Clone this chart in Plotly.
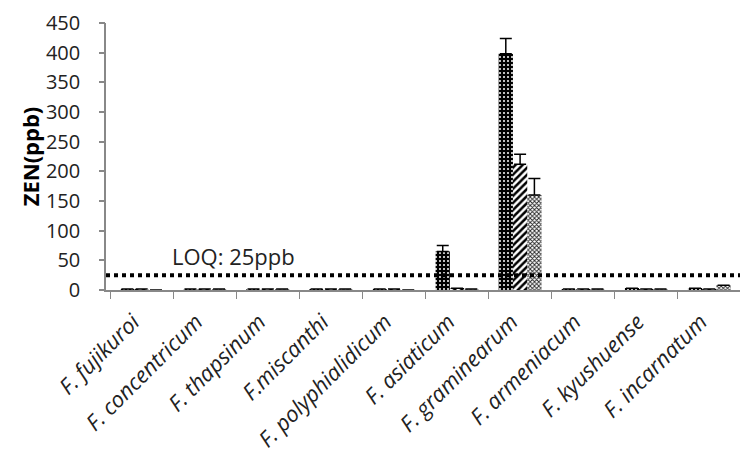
import plotly.graph_objects as go

# species on the x axis
species = ["F. fujikuroi", "F. concentricum", "F. thapsinum", "F.miscanthi",
           "F. polyphialidicum", "F. asiaticum", "F. graminearum",
           "F. armeniacum", "F. kyushuense", "F. incarnatum"]

# ZEN (ppb), three replicates/conditions per species
zen_a = [1.5, 1.5, 1.5, 1.5, 1.5, 65, 398, 1.5, 3, 3]
zen_b = [1.5, 1.5, 1.5, 1.5, 1.5, 3, 212, 1.5, 1.5, 1.5]
zen_c = [0, 1.5, 1.5, 1.5, 0, 1.5, 160, 1.5, 1.5, 8]

err_a = [0, 0, 0, 0, 0, 10, 26, 0, 0, 0]
err_b = [0, 0, 0, 0, 0, 0, 17, 0, 0, 0]
err_c = [0, 0, 0, 0, 0, 0, 28, 0, 0, 0]

loq = 25

fig = go.Figure()

def add_series(vals, errs, shape, bg, fg, size, solidity):
    fig.add_trace(go.Bar(
        x=species, y=vals,
        marker=dict(color=fg, line=dict(width=0),
                    pattern=dict(shape=shape, bgcolor=bg, fgcolor=fg,
                                 size=size, solidity=solidity, fillmode="replace")),
        error_y=dict(type="data", array=errs, arrayminus=[0] * len(errs),
                     symmetric=False, color="black", thickness=1.5, width=6),
        showlegend=False,
    ))

add_series(zen_a, err_a, ".", "black", "white", 4, 0.2)
add_series(zen_b, err_b, "/", "white", "black", 5, 0.5)
add_series(zen_c, err_c, "x", "white", "#222222", 3, 0.5)

# invisible trace so the overlay axis (short tick marks) gets drawn
fig.add_trace(go.Scatter(x=species, y=[0] * len(species), yaxis="y2",
                         mode="markers", marker=dict(opacity=0),
                         hoverinfo="skip", showlegend=False))

# LOQ line
fig.add_shape(type="line", xref="paper", x0=0, x1=1, yref="y", y0=loq, y1=loq,
              line=dict(color="black", width=4, dash="dot"))
fig.add_annotation(text="LOQ: 25ppb", xref="paper", x=0.1, xanchor="left",
                   yref="y", y=57, yanchor="middle", showarrow=False,
                   font=dict(size=22, color="#222222"))

# page body adds an 8px offset, so the figure is drawn 8px smaller
fig.update_layout(
    width=740, height=449,
    margin=dict(l=98, r=3, t=15, b=167),
    plot_bgcolor="white", paper_bgcolor="white",
    barmode="group", bargap=0.32, bargroupgap=0,
    font=dict(family="Open Sans", color="#222222"),
    yaxis2=dict(overlaying="y", side="left", range=[0, 450], dtick=50,
                showticklabels=False, ticks="outside", ticklen=6,
                tickcolor="#888888", tickwidth=1.5, showgrid=False,
                zeroline=False, showline=False, automargin=False),
    yaxis=dict(
        range=[0, 450], dtick=50, showline=True, linecolor="#888888", linewidth=1.5,
        ticks="outside", ticklen=20, tickcolor="rgba(0,0,0,0)", showgrid=False,
        zeroline=False, tickfont=dict(size=20), automargin=False,
        title=dict(text="<b>ZEN(ppb)</b>", font=dict(size=22, color="black"), standoff=0),
    ),
)
fig.update_xaxes(
    showline=True, linecolor="#888888", linewidth=1.5, automargin=False,
    ticks="outside", tickson="boundaries", ticklen=7, tickcolor="#888888",
    tickangle=-45, tickfont=dict(size=22, family="Open Sans", style="italic"),
    ticksuffix="<span style='color:rgba(0,0,0,0)'>0</span>", showgrid=False,
)

fig.write_html("out.html")
